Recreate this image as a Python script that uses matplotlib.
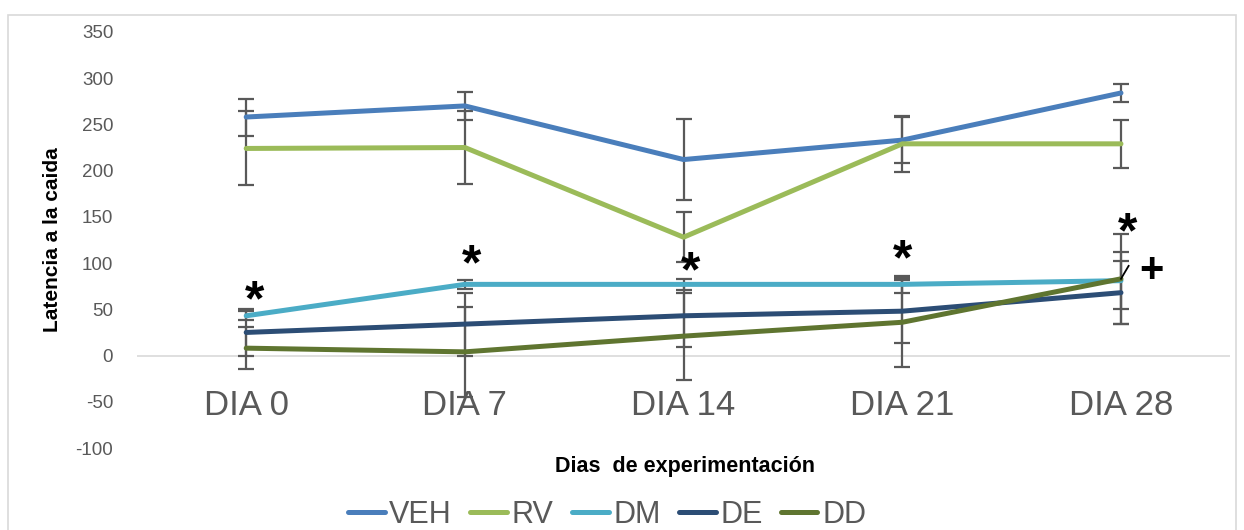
import matplotlib.pyplot as plt
from matplotlib.patches import Rectangle
from matplotlib.lines import Line2D

# Days of the experiment and fall latency per group (mean and error)
days = ["DIA 0", "DIA 7", "DIA 14", "DIA 21", "DIA 28"]
groups = ["VEH", "RV", "DM", "DE", "DD"]

veh = [258, 270, 212, 233, 284]
veh_err = [20, 15, 44, 25, 10]
rv = [224, 225, 128, 229, 229]
rv_err = [40, 39, 27, 30, 26]
dm = [43, 77, 77, 77, 81]
dm_err = [5, 5, 6, 9, 31]
de = [25, 34, 43, 48, 68]
de_err = [25, 34, 34, 34, 34]
dd = [8, 4, 21, 36, 83]
dd_err = [23, 49, 47, 48, 49]

# significance marks: (label, x position, y value)
marks = [("*", 0.04, 58), ("*", 1.03, 96), ("*", 2.03, 89),
         ("*", 3.0, 102), ("*", 4.03, 131), ("+", 4.14, 91)]

colors = ["#4a7ebb", "#9bbb59", "#4bacc6", "#2c4d75", "#5f7530"]
series = [veh, rv, dm, de, dd]
errors = [veh_err, rv_err, dm_err, de_err, dd_err]

plt.rcParams["font.family"] = ["Liberation Sans", "DejaVu Sans"]
plt.rcParams["axes.unicode_minus"] = False

fig = plt.figure(figsize=(12.44, 5.30), dpi=100)
ax = fig.add_axes([0.110, 0.1547, 0.879, 0.785])

x = list(range(len(days)))
for vals, errs, col in zip(series, errors, colors):
    ax.errorbar(x, vals, yerr=errs, fmt="none", ecolor="#595959",
                elinewidth=1.6, capsize=5.5, capthick=1.6, zorder=2)
for vals, col, name in zip(series, colors, groups):
    ax.plot(x, vals, color=col, linewidth=3.6, solid_capstyle="round",
            label=name, zorder=3)

# zero line
ax.axhline(0, color="#d9d9d9", linewidth=1.2, zorder=1)

for txt, mx, my in marks:
    size = 36 if txt == "*" else 30
    ax.text(mx, my, txt, fontsize=size, fontweight="bold", color="black",
            ha="center", va="center", zorder=5)
ax.add_line(Line2D([4.0, 4.035], [83, 97], color="black", linewidth=1.3, zorder=5))

ax.set_xlim(-0.5, 4.5)
ax.set_ylim(-100, 350)
ax.set_yticks(range(-100, 351, 50))
ax.tick_params(axis="y", length=0, pad=17, labelsize=13.5, labelcolor="#595959")
ax.set_xticks([])
for i, d in enumerate(days):
    ax.text(i, -54, d, fontsize=25, color="#595959", ha="center", va="center")

for s in ax.spines.values():
    s.set_visible(False)

ax.set_ylabel("Latencia a la caida", fontsize=15, fontweight="bold", labelpad=10)
fig.text(0.551, 0.119, "Dias  de experimentación", fontsize=15.5,
         fontweight="bold", ha="center", va="center")

ax.legend(loc="center", bbox_to_anchor=(0.488, 0.028), bbox_transform=fig.transFigure,
          ncol=5, frameon=False, fontsize=22, labelcolor="#595959",
          handlelength=1.2, handletextpad=0.15, columnspacing=0.6)

# chart border
fig.patches.append(Rectangle((0.0064, -0.05), 0.9872, 1.0217, transform=fig.transFigure,
                             fill=False, edgecolor="#d9d9d9", linewidth=1.2))

fig.savefig("out.png", dpi=100)
